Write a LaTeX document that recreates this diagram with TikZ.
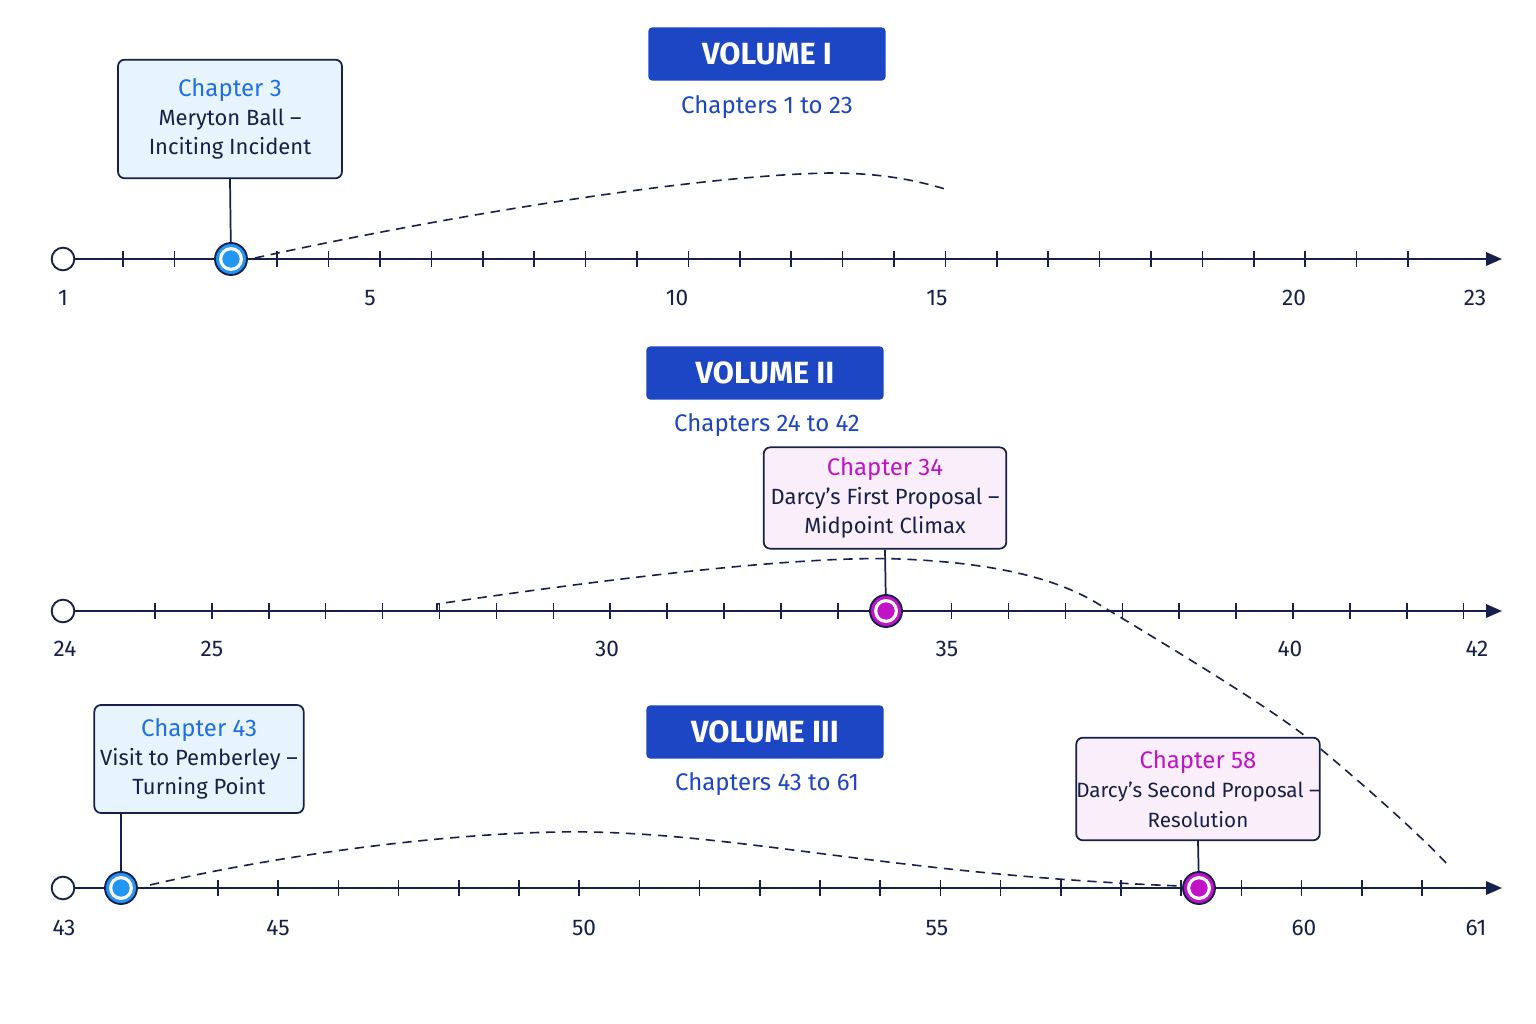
\documentclass[tikz,border=0pt]{standalone}
\usepackage{fontspec}
\setmainfont{Fira Sans}
\usetikzlibrary{arrows.meta}
\definecolor{navy}{HTML}{16204A}
\definecolor{vblue}{HTML}{1C46C4}
\definecolor{cblue}{HTML}{1E6FE8}
\definecolor{dotblue}{HTML}{2196F3}
\definecolor{mag}{HTML}{C013C8}
\definecolor{lblue}{HTML}{E8F4FD}
\definecolor{lpink}{HTML}{FBEEFB}
\begin{document}
\begin{tikzpicture}[x=0.75pt,y=-0.75pt,
 axis/.style={navy,line width=1.6pt,-{Triangle[length=12pt,width=10pt]}},
 tick/.style={navy,line width=1.1pt},
 start/.style={circle,draw=navy,line width=1.4pt,fill=white,minimum size=17pt,inner sep=0},
 ev/.style={circle,draw=navy,line width=1.4pt,fill=#1,minimum size=24pt,inner sep=0,path picture={\fill[white] (path picture bounding box.center) circle (9pt);\fill[#1] (path picture bounding box.center) circle (6.5pt);}},
 num/.style={navy,font=\fontsize{17}{20}\selectfont},
 vol/.style={fill=vblue,rounded corners=3pt,text=white,font=\fontsize{23}{26}\selectfont\bfseries,minimum width=178pt,minimum height=40pt},
 sub/.style={text=vblue,font=\fontsize{18}{22}\selectfont},
 callout/.style={draw=navy,line width=1.3pt,rounded corners=5pt,align=center,font=\fontsize{16.5}{22}\selectfont,text=navy,inner sep=0},
 stem/.style={navy,line width=1.3pt},
 curve/.style={navy,line width=1.2pt,dash pattern=on 7pt off 5pt}]
\useasboundingbox[fill=white] (0,0) rectangle (1536,1024);

% ---------- Volume I ----------
\node[vol] (v1) at (767,54) {VOLUME I};
\node[sub] (s1) at (767,107) {Chapters 1 to 23};
\coordinate (a1s) at (63,259); \coordinate (a1e) at (1502,259);
\draw[axis] (a1s) -- (a1e);
\foreach \k in {0,...,25} {\pgfmathsetmacro\xx{123+51.4*\k}\ifnum\k=2\else\draw[tick] (\xx,251) -- (\xx,267);\fi}
\node[start] (o1) at (63,259) {};
\draw[curve] (255,258) .. controls (450,215) and (700,175) .. (830,173) .. controls (880,173) and (915,180) .. (945,189);
\node[ev=dotblue] (e3) at (231,259) {};
\node[callout,fill=lblue,minimum width=168pt,minimum height=89pt] (c3) at (230,119) {{\color{cblue}\fontsize{18}{22}\selectfont Chapter 3}\\Meryton Ball --\\Inciting Incident};
\draw[stem] (c3.south) -- (e3);
\foreach \x/\t in {63/1,370/5,677/10,937/15,1294/20,1475/23} \node[num] at (\x,298) {\t};

% ---------- Volume II ----------
\node[vol] (v2) at (765,373) {VOLUME II};
\node[sub] (s2) at (767,425) {Chapters 24 to 42};
\coordinate (a2s) at (63,611); \coordinate (a2e) at (1502,611);
\draw[axis] (a2s) -- (a2e);
\foreach \k in {0,...,23} {\pgfmathsetmacro\xx{155+56.9*\k}\draw[tick] (\xx,603) -- (\xx,619);}
\node[start] (o2) at (63,611) {};
\draw[curve] (437,611) -- (437,604) .. controls (600,580) and (800,555) .. (900,559) .. controls (1000,563) and (1060,580) .. (1100,605) .. controls (1200,665) and (1280,715) .. (1310,740) .. controls (1370,790) and (1420,835) .. (1448,865);
\node[ev=mag] (e34) at (886,611) {};
\node[callout,fill=lpink,minimum width=182pt,minimum height=76pt] (c34) at (885,498) {{\color{mag}\fontsize{18}{22}\selectfont Chapter 34}\\Darcy’s First Proposal --\\Midpoint Climax};
\draw[stem] (c34.south) -- (e34);
\foreach \x/\t in {65/24,212/25,607/30,947/35,1290/40,1477/42} \node[num] at (\x,649) {\t};

% ---------- Volume III ----------
\node[vol] (v3) at (765,732) {VOLUME III};
\node[sub] (s3) at (767,784) {Chapters 43 to 61};
\coordinate (a3s) at (63,888); \coordinate (a3e) at (1502,888);
\draw[axis] (a3s) -- (a3e);
\foreach \k in {0,...,20} {\pgfmathsetmacro\xx{218+60.2*\k}\draw[tick] (\xx,880) -- (\xx,896);}
\node[start] (o3) at (63,888) {};
\draw[curve] (150,885) .. controls (300,850) and (480,830) .. (590,832) .. controls (750,835) and (900,875) .. (1180,886);
\node[ev=dotblue] (e43) at (121,888) {};
\node[ev=mag] (e58) at (1199,888) {};
\node[callout,fill=lblue,minimum width=157pt,minimum height=81pt] (c43) at (199,759) {{\color{cblue}\fontsize{18}{22}\selectfont Chapter 43}\\Visit to Pemberley --\\Turning Point};
\node[callout,fill=lpink,minimum width=171pt,minimum height=77pt] (c58) at (1198,789) {{\color{mag}\fontsize{18}{22}\selectfont Chapter 58}\\{\fontsize{15.5}{20}\selectfont Darcy’s Second Proposal --}\\{\fontsize{15.5}{20}\selectfont Resolution}};
\draw[stem] (121,813) -- (e43);
\draw[stem] (c58.south) -- (e58);
\foreach \x/\t in {64/43,278/45,584/50,937/55,1304/60,1476/61} \node[num] at (\x,928) {\t};
\end{tikzpicture}
\end{document}
